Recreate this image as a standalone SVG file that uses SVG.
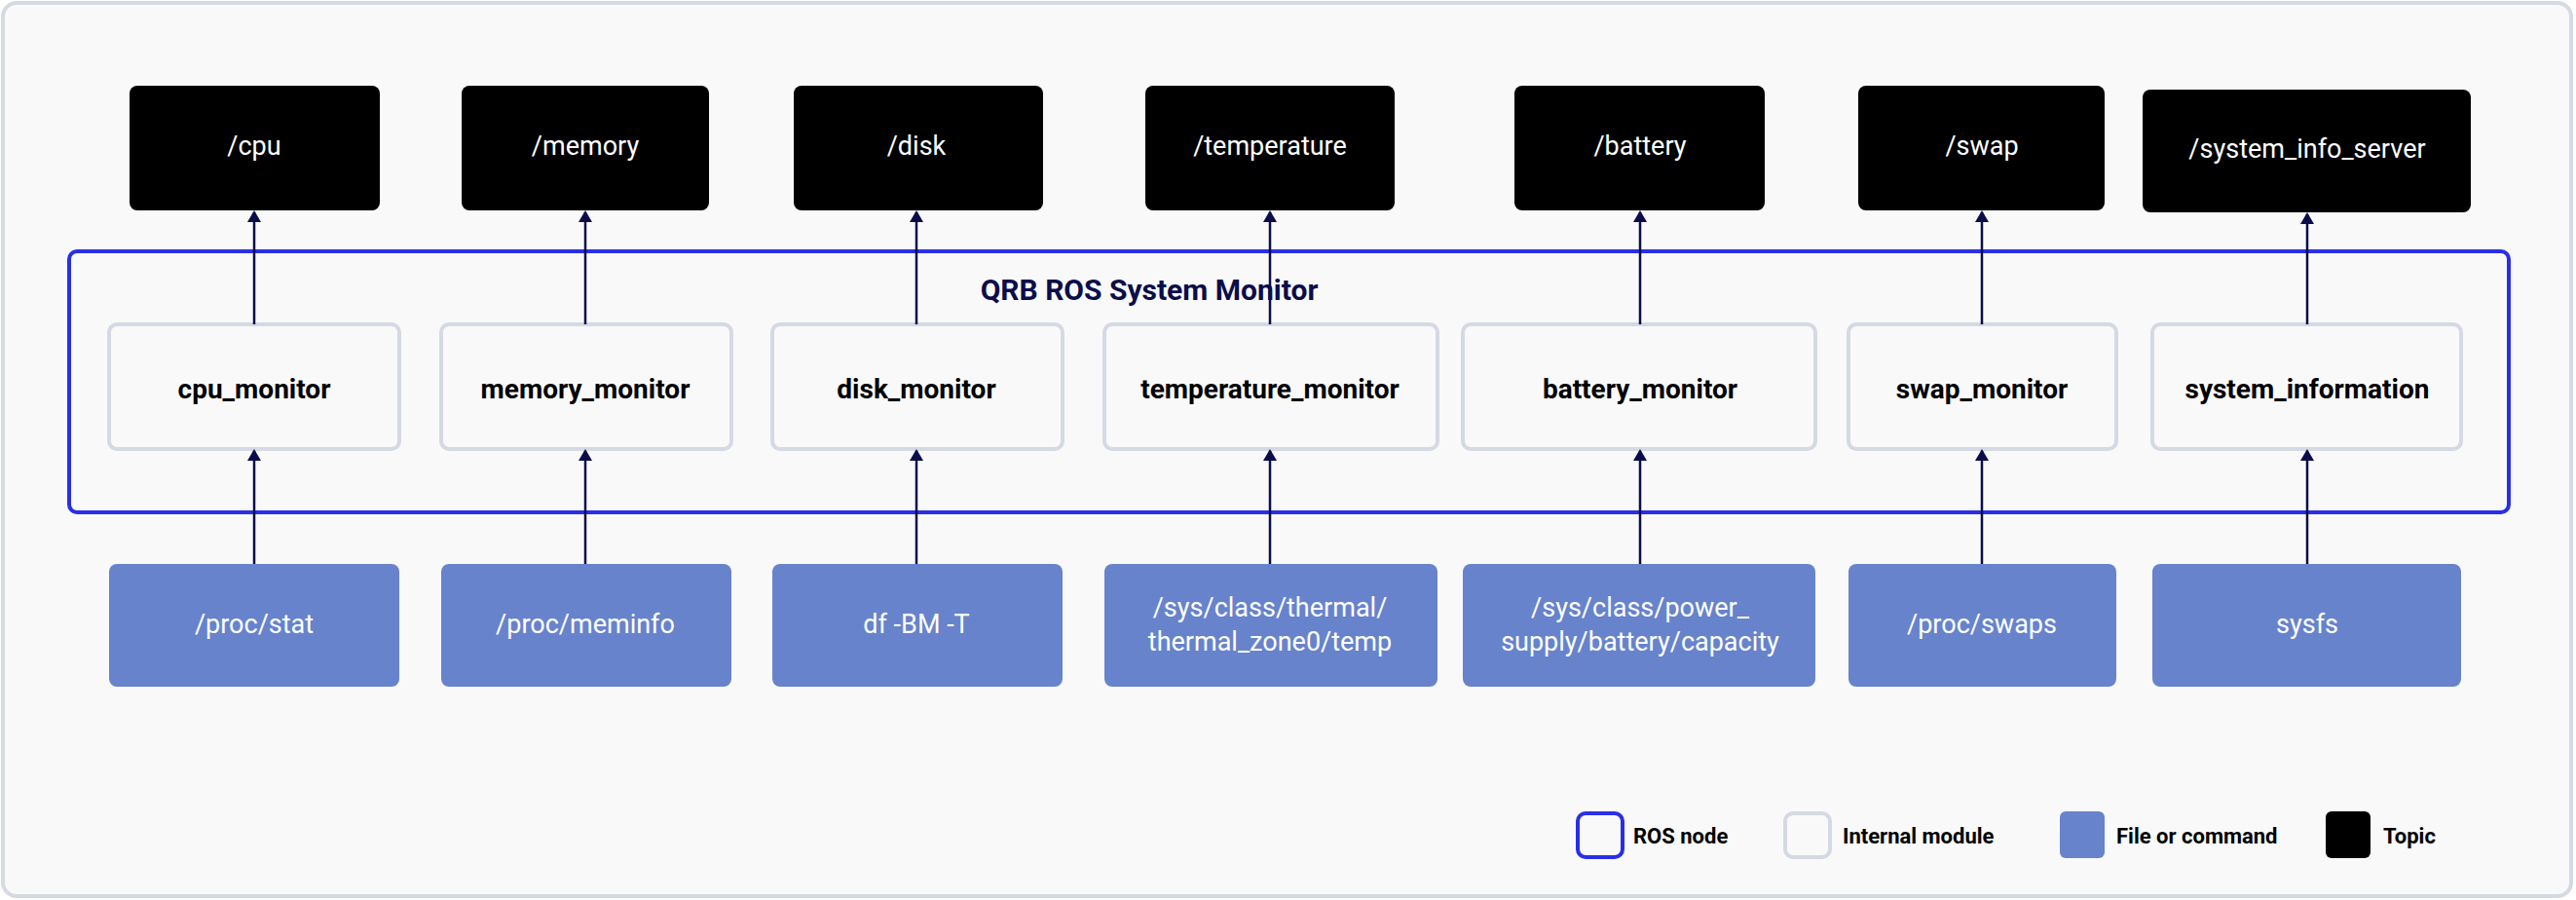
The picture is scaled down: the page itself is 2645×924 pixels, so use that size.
<svg xmlns="http://www.w3.org/2000/svg" width="2645" height="924" viewBox="0 0 2645 924">
<style>
.topic{fill:#000}
.mod{fill:#f9f9fa;stroke:#d5d9e3;stroke-width:4}
.file{fill:#6783cc}
text{font-family:Roboto,"Liberation Sans",sans-serif;text-anchor:middle;dominant-baseline:central}
.tw{fill:#fff;font-size:27px}
.tb{fill:#000;font-size:28px;font-weight:bold}
.lg{fill:#000;font-size:22px;font-weight:bold;text-anchor:start}
.c{stroke:#0b0d4a;stroke-width:2.5;fill:none;marker-end:url(#a)}
</style>
<defs><marker id="a" markerWidth="12" markerHeight="14" refX="10" refY="7" orient="auto" markerUnits="userSpaceOnUse"><path d="M0,0 L12,7 L0,14 z" fill="#0b0d4a"/></marker></defs>
<rect x="3" y="3" width="2637" height="917" rx="14" fill="#f9f9fa" stroke="#d5d9e3" stroke-width="4"/>
<g id="container"><rect x="71" y="258" width="2505" height="268" rx="8" fill="none" stroke="#2b2ee6" stroke-width="4"/><text x="1180" y="297" style="font-size:30px;font-weight:bold;fill:#0b0d4a">QRB ROS System Monitor</text></g>
<g id="t-cpu"><rect class="topic" x="133" y="88" width="257" height="128" rx="8"/><text class="tw" x="261" y="150">/cpu</text></g>
<g id="t-memory"><rect class="topic" x="474" y="88" width="254" height="128" rx="8"/><text class="tw" x="601" y="150">/memory</text></g>
<g id="t-disk"><rect class="topic" x="815" y="88" width="256" height="128" rx="8"/><text class="tw" x="941" y="150">/disk</text></g>
<g id="t-temperature"><rect class="topic" x="1176" y="88" width="256" height="128" rx="8"/><text class="tw" x="1304" y="150">/temperature</text></g>
<g id="t-battery"><rect class="topic" x="1555" y="88" width="257" height="128" rx="8"/><text class="tw" x="1684" y="150">/battery</text></g>
<g id="t-swap"><rect class="topic" x="1908" y="88" width="253" height="128" rx="8"/><text class="tw" x="2035" y="150">/swap</text></g>
<g id="t-sysinfo"><rect class="topic" x="2200" y="92" width="337" height="126" rx="8"/><text class="tw" x="2369" y="153">/system_info_server</text></g>
<g id="m-cpu"><rect class="mod" x="112" y="333" width="298" height="128" rx="8"/><text class="tb" x="261" y="399">cpu_monitor</text></g>
<g id="m-memory"><rect class="mod" x="453" y="333" width="298" height="128" rx="8"/><text class="tb" x="601" y="399">memory_monitor</text></g>
<g id="m-disk"><rect class="mod" x="793" y="333" width="298" height="128" rx="8"/><text class="tb" x="941" y="399">disk_monitor</text></g>
<g id="m-temperature"><rect class="mod" x="1134" y="333" width="342" height="128" rx="8"/><text class="tb" x="1304" y="399">temperature_monitor</text></g>
<g id="m-battery"><rect class="mod" x="1502" y="333" width="362" height="128" rx="8"/><text class="tb" x="1684" y="399">battery_monitor</text></g>
<g id="m-swap"><rect class="mod" x="1898" y="333" width="275" height="128" rx="8"/><text class="tb" x="2035" y="399">swap_monitor</text></g>
<g id="m-sysinfo"><rect class="mod" x="2210" y="333" width="317" height="128" rx="8"/><text class="tb" x="2369" y="399">system_information</text></g>
<g id="f-stat"><rect class="file" x="112" y="579" width="298" height="126" rx="8"/><text class="tw" x="261" y="641">/proc/stat</text></g>
<g id="f-meminfo"><rect class="file" x="453" y="579" width="298" height="126" rx="8"/><text class="tw" x="601" y="641">/proc/meminfo</text></g>
<g id="f-df"><rect class="file" x="793" y="579" width="298" height="126" rx="8"/><text class="tw" x="941" y="641">df -BM -T</text></g>
<g id="f-thermal"><rect class="file" x="1134" y="579" width="342" height="126" rx="8"/><text class="tw" x="1304" y="624">/sys/class/thermal/</text><text class="tw" x="1304" y="659">thermal_zone0/temp</text></g>
<g id="f-battery"><rect class="file" x="1502" y="579" width="362" height="126" rx="8"/><text class="tw" x="1684" y="624">/sys/class/power_</text><text class="tw" x="1684" y="659">supply/battery/capacity</text></g>
<g id="f-swaps"><rect class="file" x="1898" y="579" width="275" height="126" rx="8"/><text class="tw" x="2035" y="641">/proc/swaps</text></g>
<g id="f-sysfs"><rect class="file" x="2210" y="579" width="317" height="126" rx="8"/><text class="tw" x="2369" y="641">sysfs</text></g>
<g id="connectors">
<line class="c" x1="261" y1="333" x2="261" y2="218"/><line class="c" x1="601" y1="333" x2="601" y2="218"/><line class="c" x1="941" y1="333" x2="941" y2="218"/><line class="c" x1="1304" y1="333" x2="1304" y2="218"/><line class="c" x1="1684" y1="333" x2="1684" y2="218"/><line class="c" x1="2035" y1="333" x2="2035" y2="218"/><line class="c" x1="2369" y1="333" x2="2369" y2="220"/>
<line class="c" x1="261" y1="579" x2="261" y2="463"/><line class="c" x1="601" y1="579" x2="601" y2="463"/><line class="c" x1="941" y1="579" x2="941" y2="463"/><line class="c" x1="1304" y1="579" x2="1304" y2="463"/><line class="c" x1="1684" y1="579" x2="1684" y2="463"/><line class="c" x1="2035" y1="579" x2="2035" y2="463"/><line class="c" x1="2369" y1="579" x2="2369" y2="463"/>
</g>
<g id="legend">
<rect x="1620" y="835" width="46" height="45" rx="8" fill="none" stroke="#2b2ee6" stroke-width="4"/><text class="lg" x="1677" y="858">ROS node</text>
<rect x="1833" y="835" width="46" height="45" rx="8" fill="none" stroke="#d5d9e3" stroke-width="4"/><text class="lg" x="1892" y="858">Internal module</text>
<rect x="2115" y="833" width="46" height="48" rx="6" class="file"/><text class="lg" x="2173" y="858">File or command</text>
<rect x="2388" y="833" width="46" height="48" rx="6" class="topic"/><text class="lg" x="2447" y="858">Topic</text>
</g>
</svg>
